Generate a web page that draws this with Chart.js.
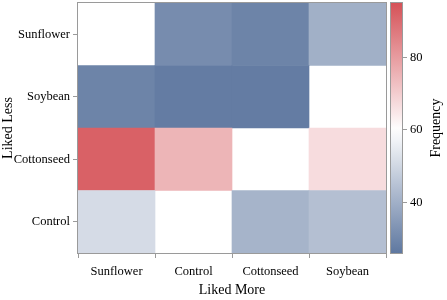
<!DOCTYPE html>
<html>
<head>
<meta charset="utf-8">
<script src="https://cdn.jsdelivr.net/npm/chart.js@4.4.1/dist/chart.umd.min.js"></script>
<style>
  body { margin: 0; background: #fff; }
  #wrap { position: relative; width: 447px; height: 300px; }
  #wrap canvas { position: absolute; left: 0; top: 0; }
</style>
</head>
<body>
<div id="wrap">
  <canvas id="heat" width="447" height="300"></canvas>
  <canvas id="bar" width="447" height="300"></canvas>
</div>
<script>
// columns (Liked More) and rows (Liked Less, top to bottom)
const likedMore = ["Sunflower", "Control", "Cottonseed", "Soybean"];
const likedLess = ["Sunflower", "Soybean", "Cottonseed", "Control"];

// frequency per row, one value per column; null = no cell (diagonal)
const rowSunflower  = [null, 31, 29, 40];
const rowSoybean    = [29, 27, 27, null];
const rowCottonseed = [92, 75, null, 67];
const rowControl    = [51, null, 41, 44];

const scaleMin = 26, scaleMid = 60, scaleMax = 95;
const colorTicks = [40, 60, 80];

const blue = [95, 120, 160];
const red = [213, 82, 88];

function freqColor(v) {
    if (v == null) return "rgba(255,255,255,0)";
    let c, t;
    if (v < scaleMid) {
        t = Math.min(1, (scaleMid - v) / (scaleMid - scaleMin));
        c = blue;
    } else {
        t = Math.min(1, (v - scaleMid) / (scaleMax - scaleMid));
        c = red;
    }
    const r = Math.round(255 + (c[0] - 255) * t);
    const g = Math.round(255 + (c[1] - 255) * t);
    const b = Math.round(255 + (c[2] - 255) * t);
    return "rgb(" + r + "," + g + "," + b + ")";
}

const serif = "'Liberation Serif', 'DejaVu Serif', serif";
const grey = "#9a9a9a";

// stacked from bottom: Control, Cottonseed, Soybean, Sunflower
const rows = [rowControl, rowCottonseed, rowSoybean, rowSunflower];
const rowNames = likedLess.slice().reverse();

const datasets = rows.map(function (vals, i) {
    return {
        label: rowNames[i],
        data: vals.map(function () { return 1; }),
        freq: vals,
        backgroundColor: vals.map(freqColor),
        borderWidth: 0,
        barPercentage: 1.0,
        categoryPercentage: 1.0
    };
});

function noPad(s) {
    s.paddingTop = 0;
    s.paddingBottom = 0;
}

const frameBox = {
    id: "frameBox",
    afterDatasetsDraw(chart) {
        const a = chart.chartArea;
        const ctx = chart.ctx;
        ctx.save();
        ctx.strokeStyle = grey;
        ctx.lineWidth = 1;
        ctx.strokeRect(a.left - 0.5, a.top - 0.5, a.right - a.left + 1, a.bottom - a.top + 1);
        ctx.restore();
    }
};

// colour bar title reads bottom to top
const barTitle = {
    id: "barTitle",
    afterDraw(chart) {
        const a = chart.chartArea;
        const ctx = chart.ctx;
        ctx.save();
        ctx.translate(436, (a.top + a.bottom) / 2);
        ctx.rotate(-Math.PI / 2);
        ctx.font = "14px " + serif;
        ctx.fillStyle = "#000";
        ctx.textAlign = "center";
        ctx.textBaseline = "middle";
        ctx.fillText("Frequency", 0, 0);
        ctx.restore();
    }
};

new Chart(document.getElementById("heat"), {
    type: "bar",
    data: { labels: likedMore, datasets: datasets },
    options: {
        responsive: false,
        animation: false,
        layout: { padding: { top: 3, right: 61, left: 0, bottom: 0 } },
        plugins: { legend: { display: false }, tooltip: { enabled: false } },
        scales: {
            x: {
                stacked: true,
                grid: { display: true, drawOnChartArea: false, drawTicks: true, tickLength: 5, color: grey },
                border: { display: false },
                ticks: { color: "#000", font: { family: serif, size: 12.5 }, padding: 6, maxRotation: 0 },
                title: { display: true, text: "Liked More", color: "#000", font: { family: serif, size: 14 }, padding: { top: 0, bottom: 1 } },
                afterFit(s) { s.height = 47; }
            },
            y: {
                stacked: true,
                min: 0,
                max: 4,
                afterBuildTicks(s) { s.ticks = [0.5, 1.5, 2.5, 3.5].map(function (v) { return { value: v }; }); },
                grid: { display: true, drawOnChartArea: false, drawTicks: true, tickLength: 5, color: grey },
                border: { display: false },
                ticks: {
                    color: "#000",
                    font: { family: serif, size: 12.5 },
                    padding: 3,
                    callback: function (v) { return rowNames[Math.floor(v)]; }
                },
                title: { display: true, text: "Liked Less", color: "#000", font: { family: serif, size: 14 }, padding: { top: 0, bottom: 0 } },
                afterFit(s) { s.width = 78; noPad(s); }
            }
        }
    },
    plugins: [frameBox]
});

// colour bar
new Chart(document.getElementById("bar"), {
    type: "bar",
    data: {
        labels: ["Frequency"],
        datasets: [{
            data: [[scaleMin, scaleMax]],
            borderWidth: 0,
            barPercentage: 1.0,
            categoryPercentage: 1.0,
            backgroundColor: function (ctx) {
                const a = ctx.chart.chartArea;
                if (!a) return "#fff";
                const ys = ctx.chart.scales.y;
                const g = ctx.chart.ctx.createLinearGradient(0, ys.getPixelForValue(scaleMin), 0, ys.getPixelForValue(scaleMax));
                for (let i = 0; i <= 20; i++) {
                    const v = scaleMin + (scaleMax - scaleMin) * i / 20;
                    g.addColorStop(i / 20, freqColor(v));
                }
                return g;
            }
        }]
    },
    options: {
        responsive: false,
        animation: false,
        layout: { padding: { top: 3, right: 0, left: 391, bottom: 47 } },
        plugins: { legend: { display: false }, tooltip: { enabled: false } },
        scales: {
            x: { display: false },
            y: {
                position: "right",
                min: scaleMin,
                max: scaleMax,
                afterBuildTicks(s) { s.ticks = colorTicks.map(function (v) { return { value: v }; }); },
                grid: { display: true, drawOnChartArea: false, drawTicks: true, tickLength: 5, color: grey },
                border: { display: false },
                ticks: { color: "#000", font: { family: serif, size: 12.5 }, padding: 3 },
                title: { display: false },
                afterFit(s) { s.width = 45; noPad(s); }
            }
        }
    },
    plugins: [frameBox, barTitle]
});
</script>
</body>
</html>
